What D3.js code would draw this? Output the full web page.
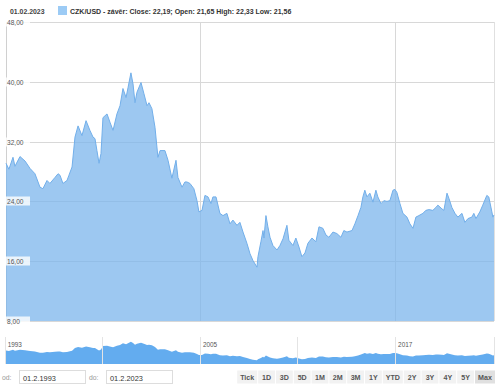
<!DOCTYPE html>
<html>
<head>
<meta charset="utf-8">
<title>CZK/USD</title>
<style>
body{margin:0;background:#fff}
text{font-family:"Liberation Sans",Arial,sans-serif}
</style>
</head>
<body>
<script src="https://cdn.jsdelivr.net/npm/d3@7"></script>
<script>
// decimal year / close
var years = [1993.08,1993.26,1993.51,1993.63,1993.94,1994.25,1994.56,1994.86,1995.17,1995.35,1995.60,1995.78,
  1996.09,1996.28,1996.40,1996.58,1996.83,1996.95,1997.14,1997.32,1997.51,1997.75,1998.00,1998.24,1998.43,
  1998.55,1998.67,1998.80,1998.92,1999.04,1999.29,1999.47,1999.66,1999.90,2000.09,2000.27,2000.46,2000.58,
  2000.76,2000.89,2001.01,2001.13,2001.38,2001.56,2001.75,2001.87,2002.05,2002.24,2002.42,2002.55,2002.85,
  2003.04,2003.28,2003.53,2003.65,2003.90,2004.08,2004.20,2004.39,2004.63,2004.82,2004.94,2005.13,2005.31,
  2005.50,2005.68,2005.80,2005.99,2006.23,2006.42,2006.66,2006.85,2007.03,2007.28,2007.46,2007.65,2007.89,
  2008.08,2008.26,2008.51,2008.57,2008.75,2008.88,2008.94,2009.06,2009.18,2009.31,2009.49,2009.74,2009.92,
  2010.11,2010.35,2010.47,2010.72,2010.90,2011.09,2011.27,2011.46,2011.64,2011.89,2012.13,2012.32,2012.56,
  2012.75,2012.93,2013.18,2013.42,2013.67,2013.85,2014.04,2014.35,2014.53,2014.72,2014.90,2015.02,2015.14,
  2015.27,2015.45,2015.64,2015.82,2015.94,2016.13,2016.31,2016.50,2016.68,2016.87,2016.99,2017.11,2017.30,
  2017.48,2017.73,2017.91,2018.10,2018.28,2018.46,2018.71,2018.89,2019.08,2019.32,2019.51,2019.63,2019.88,
  2020.00,2020.19,2020.31,2020.49,2020.68,2020.86,2021.11,2021.29,2021.48,2021.72,2021.84,2021.97,2022.21,
  2022.39,2022.64,2022.76,2022.95,2023.01,2023.08]
var closes = [29.1,28.3,29.9,28.7,30.0,29.4,28.4,27.7,25.9,25.7,26.8,26.4,
  27.2,27.7,27.5,26.4,26.8,27.5,28.6,32.6,34.1,32.8,34.8,33.5,32.6,
  32.4,30.8,29.1,30.4,35.2,35.7,34.6,33.5,35.7,36.8,39.1,37.9,39.2,
  41.2,39.7,37.2,38.6,39.9,38.4,36.8,37.2,36.4,33.9,29.9,30.8,30.8,
  29.5,27.1,29.5,27.2,25.9,26.6,26.6,26.4,25.7,24.1,22.6,22.8,24.8,
  24.6,23.7,24.6,24.6,22.4,22.1,22.4,21.0,21.5,20.8,21.2,19.9,18.4,
  17.0,16.1,15.2,16.6,18.6,20.1,19.1,22.1,20.6,19.2,18.1,17.5,18.1,
  19.0,20.8,18.8,18.1,19.1,17.9,16.6,17.1,18.4,19.1,18.6,20.6,20.4,
  19.5,19.2,19.9,19.7,19.2,20.1,19.9,20.1,21.0,22.1,23.2,24.6,25.5,
  24.6,25.1,23.9,25.5,24.6,23.7,24.1,24.0,24.1,25.5,25.6,25.2,23.7,
  22.4,21.9,21.0,20.4,21.9,22.1,22.4,22.8,22.9,22.8,23.2,23.5,23.0,
  22.8,25.1,24.4,23.2,22.4,21.9,22.4,21.2,21.7,21.9,22.4,21.7,22.6,
  23.5,24.8,24.6,22.6,21.9,22.19]

var yTicks = [8, 16, 24, 32, 40, 48]
var gridYears = [2005, 2017]
var navYears = [1993, 1999, 2005, 2011, 2017]
var navLabels = [1993, 2005, 2017]
var buttons = ['Tick','1D','3D','5D','1M','2M','3M','1Y','YTD','2Y','3Y','4Y','5Y','Max']
var headerDate = '01.02.2023'
var legendText = 'CZK/USD - závěr: Close: 22,19; Open: 21,65 High: 22,33 Low: 21,56'
var fromDate = '01.2.1993', toDate = '01.2.2023'

var W = 500, H = 388
var data = years.map(function(y, i){ return {t: y, v: closes[i]} })

var svg = d3.select('body').append('svg')
  .attr('width', W).attr('height', H)

var x = d3.scaleLinear().domain([1993.08, 2023.08]).range([6, 494])
var y = d3.scaleLinear().domain([8, 48]).range([321, 22])
var fmt = function(v){ return d3.format('.2f')(v).replace('.', ',') }

// header
svg.append('text').attr('x', 10).attr('y', 14)
  .attr('font-size', 6.9).attr('font-weight', 'bold').attr('fill', '#444')
  .text(headerDate)
svg.append('rect').attr('x', 58).attr('y', 6).attr('width', 9).attr('height', 9)
  .attr('fill', '#9ccbf5')
svg.append('text').attr('x', 70).attr('y', 14)
  .attr('font-size', 7).attr('font-weight', 'bold').attr('fill', '#333')
  .text(legendText)

// grid
var grid = svg.append('g')
grid.selectAll('line.h').data(yTicks).enter().append('line')
  .attr('x1', 6).attr('x2', 494)
  .attr('y1', function(d){ return Math.round(y(d)) + 0.5 })
  .attr('y2', function(d){ return Math.round(y(d)) + 0.5 })
  .attr('stroke', '#d8d8d8')
grid.selectAll('line.v').data(gridYears).enter().append('line')
  .attr('x1', function(d){ return Math.round(x(d)) + 0.5 })
  .attr('x2', function(d){ return Math.round(x(d)) + 0.5 })
  .attr('y1', 22).attr('y2', 321)
  .attr('stroke', '#d8d8d8')
grid.append('line').attr('x1', 6.5).attr('x2', 6.5).attr('y1', 22).attr('y2', 321).attr('stroke', '#d0d0d0')
grid.append('line').attr('x1', 494.5).attr('x2', 494.5).attr('y1', 22).attr('y2', 321).attr('stroke', '#e0e0e0')

// main area
var area = d3.area()
  .x(function(d){ return x(d.t) })
  .y0(y(8)).y1(function(d){ return y(d.v) })
var line = d3.line()
  .x(function(d){ return x(d.t) })
  .y(function(d){ return y(d.v) })

svg.append('path').datum(data).attr('d', area)
  .attr('fill', '#7cb5ec').attr('fill-opacity', 0.75)
svg.append('path').datum(data).attr('d', line)
  .attr('fill', 'none').attr('stroke', '#72afea').attr('stroke-width', 1)

// y labels
var yl = svg.append('g').selectAll('g').data(yTicks).enter().append('g')
  .attr('transform', function(d){ return 'translate(7,' + Math.round(y(d)) + ')' })
yl.append('rect').attr('x', -1).attr('y', -4.5).attr('width', 24).attr('height', 9)
  .attr('fill', '#fff').attr('fill-opacity', 0.8)
yl.append('text').attr('x', 0).attr('y', 2.5)
  .attr('font-size', 6.6).attr('fill', '#555')
  .text(fmt)

// navigator
var ny = d3.scaleLinear().domain([10, 48]).range([364, 337])
var narea = d3.area()
  .x(function(d){ return x(d.t) })
  .y0(364).y1(function(d){ return ny(d.v) })
svg.append('path').datum(data).attr('d', narea).attr('fill', '#63acef')
svg.selectAll('line.nav').data(navYears).enter().append('line')
  .attr('x1', function(d){ return Math.round(x(d)) + 0.5 })
  .attr('x2', function(d){ return Math.round(x(d)) + 0.5 })
  .attr('y1', 337).attr('y2', 364)
  .attr('stroke', '#e4e4e4')
svg.append('line').attr('x1', 494.5).attr('x2', 494.5).attr('y1', 337).attr('y2', 364).attr('stroke', '#e4e4e4')
svg.selectAll('text.nav').data(navLabels).enter().append('text')
  .attr('x', function(d){ return x(d) + 3 })
  .attr('y', 347)
  .attr('font-size', 6.4).attr('fill', '#555')
  .text(function(d){ return d })

// date inputs
function input(lbl, lx, bx, val){
  svg.append('text').attr('x', lx).attr('y', 380)
    .attr('font-size', 6.8).attr('fill', '#999').text(lbl)
  svg.append('rect').attr('x', bx + 0.5).attr('y', 370.5).attr('width', 66).attr('height', 13)
    .attr('fill', '#fff').attr('stroke', '#ddd')
  svg.append('text').attr('x', bx + 4).attr('y', 380.5)
    .attr('font-size', 7.4).attr('fill', '#333').text(val)
}
input('od:', 2, 19, fromDate)
input('do:', 89, 106, toDate)

// range buttons
var bw = buttons.map(function(b){ return b.length > 2 ? 21 : 17.8 })
var bx = 496 - d3.sum(bw)
var bg = svg.append('g')
buttons.forEach(function(b, i){
  var w = bw[i]
  bg.append('rect').attr('x', bx).attr('y', 370.5).attr('width', w - 1).attr('height', 13)
    .attr('fill', b === 'Max' ? '#e0e0e0' : '#f2f2f2')
  bg.append('text').attr('x', bx + (w - 1) / 2).attr('y', 380)
    .attr('text-anchor', 'middle').attr('font-size', 7.1).attr('font-weight', 'bold')
    .attr('fill', '#555').text(b)
  bx += w
})
</script>
</body>
</html>
